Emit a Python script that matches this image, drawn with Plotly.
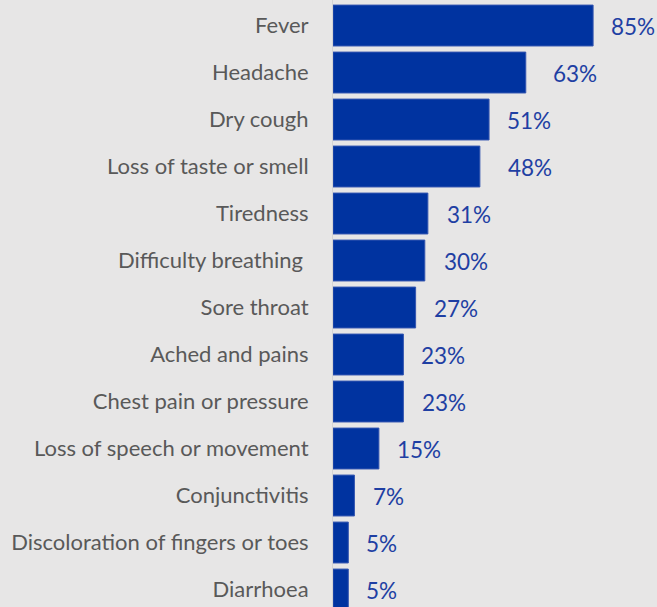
import plotly.graph_objects as go

categories = ["Fever", "Headache", "Dry cough", "Loss of taste or smell", "Tiredness",
              "Difficulty breathing ", "Sore throat", "Ached and pains", "Chest pain or pressure",
              "Loss of speech or movement", "Conjunctivitis", "Discoloration of fingers or toes",
              "Diarrhoea"]
values = [85, 63, 51, 48, 31, 30, 27, 23, 23, 15, 7, 5, 5]
label_shift = [16, 25, 16, 26, 17, 17, 16, 16, 17, 16, 17, 16, 16]

BAR = "#0033a0"
TXT = "#1f3fa3"
BG = "#e7e6e6"

fig = go.Figure()
fig.add_trace(go.Bar(
    y=categories, x=values, orientation="h",
    marker=dict(color=BAR, line=dict(color="#3355b0", width=1)),
    hoverinfo="skip",
))

for c, v, s in zip(categories, values, label_shift):
    fig.add_annotation(x=v, y=c, text=f"{v}%", showarrow=False, xanchor="left",
                       xshift=s, yshift=-1, font=dict(family="Lato", size=22.5, color=TXT))

px_per_unit = 3.06
plot_w = 657 - 333
fig.update_layout(
    width=657, height=607,
    margin=dict(l=333, r=0, t=0, b=0),
    paper_bgcolor=BG, plot_bgcolor=BG,
    bargap=0.13, showlegend=False,
    xaxis=dict(range=[0, plot_w / px_per_unit], visible=False, fixedrange=True),
    yaxis=dict(range=[12.372, -0.543], showline=True, linecolor="#d4d4d4", linewidth=1,
               showgrid=False, ticks="", ticklabelstandoff=19,
               tickfont=dict(family="Lato", size=22, color="#595959")),
)
fig.write_html("out.html")
